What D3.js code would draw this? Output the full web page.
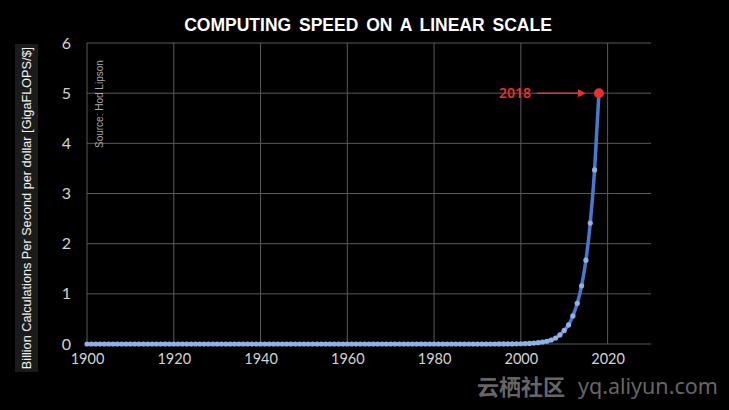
<!DOCTYPE html>
<html><head><meta charset="utf-8">
<script src="https://cdn.jsdelivr.net/npm/d3@7"></script>
<style>html,body{margin:0;padding:0;background:#000;}svg{display:block;}</style>
</head><body>
<script>
const years = d3.range(1900, 2019);
// 1900–1998 (99 values)
const earlyValues = [
0,0,0,0,0,0,0,0,0,0, 0,0,0,0,0,0,0,0,0,0,
0,0,0,0,0,0,0,0,0,0, 0,0,0,0,0,0,0,0,0,0,
0,0,0,0,0,0,0,0,0,0, 0,0,0,0,0,0,0,0,0,0,
0,0,0,0,0,0,0,0,0,0, 0,0,0,0,0,0,0,0,0,0,
0,0,0,0,0,0,0,0,0,0, 0,0,0,0,0.0004,0.0006,0.001,0.0015,0.002
];
// 1999–2018 (20 values)
const lateValues = [0.003,0.005,0.008,0.012,0.018,0.027,0.04,0.055,0.08,0.12,0.18,0.27,0.38,0.56,0.81,1.16,1.67,2.41,3.47,5.0];
const values = earlyValues.concat(lateValues);
const xTicks = [1900,1920,1940,1960,1980,2000,2020];
const yTicks = [0,1,2,3,4,5,6];
const highlightYear = 2018;

const W = 729, H = 410;
const svg = d3.select("body").append("svg").attr("width", W).attr("height", H);
svg.append("rect").attr("width", W).attr("height", H).attr("fill", "#000");

const x = d3.scaleLinear().domain([1900, 2030]).range([87, 651]);
const y = d3.scaleLinear().domain([0, 6]).range([344, 43]);

// grid
svg.append("g").selectAll("line").data(yTicks).join("line")
  .attr("x1", 87).attr("x2", 651).attr("y1", d => y(d)).attr("y2", d => y(d))
  .attr("stroke", "#5a5a5a").attr("stroke-width", 1);
svg.append("g").selectAll("line").data(xTicks).join("line")
  .attr("x1", d => x(d)).attr("x2", d => x(d)).attr("y1", y(6)).attr("y2", y(0))
  .attr("stroke", "#5a5a5a").attr("stroke-width", 1);

// axes labels via d3 axes
const xAxis = svg.append("g").attr("transform", `translate(0,${y(0)})`)
  .call(d3.axisBottom(x).tickValues(xTicks).tickFormat(d3.format("d")).tickSize(0).tickPadding(10));
xAxis.select(".domain").remove();
xAxis.selectAll("text").attr("fill", "#d4d4d4").style("font-family", "Lato, 'Noto Sans', sans-serif").style("font-size", "14.5px");

const yAxis = svg.append("g").attr("transform", `translate(87,0)`)
  .call(d3.axisLeft(y).tickValues(yTicks).tickFormat(d3.format("d")).tickSize(0).tickPadding(16));
yAxis.select(".domain").remove();
yAxis.selectAll("text").attr("fill", "#d4d4d4").style("font-family", "Lato, 'Noto Sans', sans-serif").style("font-size", "16px");

// title
svg.append("text").attr("x", 368).attr("y", 31).attr("text-anchor", "middle")
  .attr("fill", "#fff").style("font-family", "'Liberation Sans', Arial, sans-serif")
  .style("font-weight", "bold").style("font-size", "17.5px").style("word-spacing", "3px")
  .text("COMPUTING SPEED ON A LINEAR SCALE");

// y label box
svg.append("rect").attr("x", 15).attr("y", 44).attr("width", 23).attr("height", 328).attr("fill", "#1b1b1b");
svg.append("text").attr("transform", "translate(31,208) rotate(-90)").attr("text-anchor", "middle")
  .attr("fill", "#f0f0f0").style("font-family", "'Liberation Sans', Arial, sans-serif").style("font-size", "12.7px")
  .text("Billion Calculations Per Second per dollar [GigaFLOPS/$]");

// source
svg.append("text").attr("transform", "translate(103,148) rotate(-90)").attr("text-anchor", "start")
  .attr("fill", "#a8a8a8").style("font-family", "'Liberation Sans', Arial, sans-serif").style("font-size", "10px")
  .text("Source: Hod Lipson");

// line
const data = years.map((yr, i) => ({year: yr, value: values[i]}));
const line = d3.line().x(d => x(d.year)).y(d => y(d.value)).curve(d3.curveMonotoneX);
svg.append("path").datum(data).attr("d", line).attr("fill", "none")
  .attr("stroke", "#4a78cc").attr("stroke-width", 3.5);
svg.append("g").selectAll("circle").data(data.filter(d => d.year !== highlightYear)).join("circle")
  .attr("cx", d => x(d.year)).attr("cy", d => y(d.value)).attr("r", 2.6)
  .attr("fill", "#93b0e6");

const last = data.find(d => d.year === highlightYear);
const ly = y(last.value), lx = x(last.year);
svg.append("circle").attr("cx", lx).attr("cy", ly).attr("r", 5).attr("fill", "#e8302c");

// annotation
svg.append("text").attr("x", lx - 68).attr("y", ly + 5).attr("text-anchor", "end")
  .attr("fill", "#e8302c").style("font-family", "'Noto Sans', sans-serif").style("font-size", "14px").style("font-weight", "600")
  .text(String(highlightYear));
svg.append("line").attr("x1", lx - 62).attr("x2", lx - 20).attr("y1", ly).attr("y2", ly)
  .attr("stroke", "#e8302c").attr("stroke-width", 1.5);
svg.append("path").attr("d", `M${lx - 13},${ly} l-8,-4 l0,8 z`).attr("fill", "#e8302c");

// watermark
svg.append("text").attr("x", 477).attr("y", 395).attr("fill", "#666")
  .style("font-family", "'Noto Sans CJK SC', sans-serif").style("font-size", "22px").style("font-weight", "bold")
  .text("云栖社区");
svg.append("text").attr("x", 578).attr("y", 394).attr("fill", "#666")
  .style("font-family", "'Noto Sans', sans-serif").style("font-size", "21.5px")
  .text("yq.aliyun.com");
</script>
</body></html>
